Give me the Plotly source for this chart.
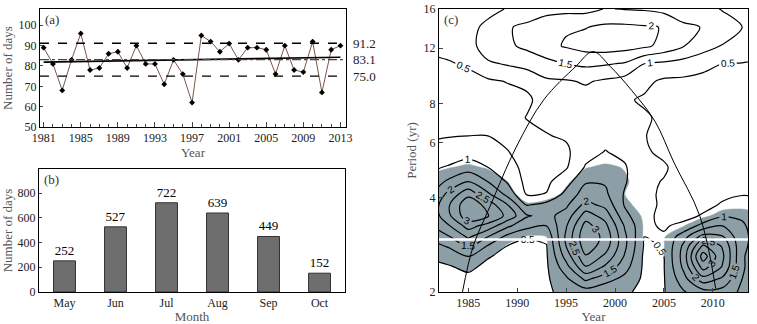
import numpy as np
import plotly.graph_objects as go

# ---------------- Panel (a): annual number of days ----------------
years_a = list(range(1981, 2014))
days_a = [89, 81, 68, 83, 96, 78, 79, 86, 87, 79, 90, 81, 81, 71, 83, 76, 62,
          95, 92, 87, 91, 83, 89, 89, 88, 76, 90, 78, 77, 92, 67, 88, 90]
upper_ref = 91.2
mean_ref = 83.1
lower_ref = 75.0
a_xticks = list(range(1981, 2014, 4))
a_xrange = [1980.6, 2013.6]
a_yrange = [50, 108]

# ---------------- Panel (b): monthly totals ----------------
months_b = ["May", "Jun", "Jul", "Aug", "Sep", "Oct"]
days_b = [252, 527, 722, 639, 449, 152]

# ---------------- Panel (c): wavelet power spectrum ----------------
wt_years = [1981, 1983, 1985, 1987, 1989, 1991, 1993, 1995, 1997, 1999,
            2001, 2003, 2005, 2007, 2009, 2011, 2013, 2015]
wt_periods = [2.0, 2.2, 2.4, 2.6, 2.8, 3.0, 3.25, 3.5, 3.8, 4.1, 4.5, 5.0,
              5.6, 6.3, 7.2, 8.2, 9.4, 10.7, 12.2, 14.0, 16.0]
# one list per year column, values from the shortest to the longest period
wt_power_by_year = [
    [0.20, 0.28, 0.38, 0.55, 0.80, 1.10, 1.40, 1.55, 1.55, 1.40, 1.15, 0.90, 0.62, 0.45, 0.35, 0.33, 0.38, 0.45, 0.55, 0.65, 0.70],
    [0.20, 0.30, 0.45, 0.70, 1.05, 1.45, 1.95, 2.40, 2.45, 2.15, 1.60, 1.05, 0.70, 0.48, 0.33, 0.30, 0.35, 0.47, 0.62, 0.75, 0.80],
    [0.20, 0.35, 0.62, 1.02, 1.55, 2.08, 2.70, 3.35, 3.40, 2.85, 2.00, 1.25, 0.78, 0.50, 0.34, 0.30, 0.38, 0.55, 0.78, 0.90, 0.92],
    [0.15, 0.22, 0.35, 0.55, 0.95, 1.50, 2.30, 3.05, 2.80, 2.10, 1.50, 1.00, 0.70, 0.50, 0.35, 0.30, 0.42, 0.92, 1.30, 1.08, 0.90],
    [0.12, 0.15, 0.22, 0.33, 0.48, 0.85, 1.60, 2.35, 2.00, 1.35, 0.95, 0.72, 0.52, 0.38, 0.30, 0.32, 0.52, 1.05, 1.42, 1.45, 1.02],
    [0.10, 0.12, 0.18, 0.25, 0.35, 0.55, 1.15, 1.55, 0.95, 0.45, 0.35, 0.32, 0.30, 0.35, 0.52, 0.42, 0.60, 1.20, 1.60, 1.62, 1.15],
    [0.42, 0.42, 0.43, 0.45, 0.48, 0.60, 1.00, 1.35, 1.15, 0.52, 0.40, 0.33, 0.35, 0.48, 0.60, 0.70, 0.92, 1.35, 1.85, 1.85, 1.30],
    [0.65, 0.90, 1.30, 1.70, 2.00, 2.10, 1.95, 1.70, 1.40, 1.15, 0.80, 0.45, 0.42, 0.55, 0.62, 0.70, 0.95, 1.50, 2.05, 1.95, 1.35],
    [0.75, 1.60, 2.45, 2.95, 3.30, 3.40, 3.20, 2.75, 2.15, 1.75, 1.45, 1.05, 0.80, 0.70, 0.68, 0.80, 1.05, 1.60, 2.20, 1.98, 1.35],
    [0.60, 1.20, 1.90, 2.40, 2.75, 2.85, 2.65, 2.30, 1.85, 1.60, 1.45, 1.25, 1.02, 0.85, 0.75, 0.72, 0.92, 1.55, 2.25, 2.10, 1.52],
    [0.55, 0.85, 1.20, 1.45, 1.60, 1.60, 1.45, 1.15, 0.95, 0.95, 1.05, 1.05, 0.88, 0.70, 0.60, 0.55, 0.80, 1.45, 2.20, 2.10, 1.48],
    [0.42, 0.40, 0.40, 0.40, 0.45, 0.50, 0.58, 0.60, 0.68, 0.62, 0.58, 0.60, 0.55, 0.52, 0.55, 0.45, 0.60, 1.00, 2.10, 2.05, 1.45],
    [0.47, 0.47, 0.48, 0.50, 0.52, 0.55, 0.45, 0.40, 0.40, 0.42, 0.48, 0.55, 0.42, 0.35, 0.42, 0.35, 0.42, 0.90, 1.85, 1.98, 1.35],
    [0.95, 1.30, 1.60, 1.70, 1.60, 1.30, 0.62, 0.35, 0.30, 0.30, 0.30, 0.32, 0.30, 0.30, 0.30, 0.32, 0.40, 0.80, 1.52, 1.60, 1.20],
    [1.30, 2.30, 3.20, 3.75, 3.10, 2.20, 1.20, 0.55, 0.35, 0.30, 0.30, 0.30, 0.30, 0.30, 0.30, 0.30, 0.40, 0.60, 1.25, 1.48, 1.10],
    [1.30, 1.90, 2.45, 2.60, 2.45, 2.05, 1.50, 0.95, 0.55, 0.40, 0.35, 0.32, 0.30, 0.30, 0.30, 0.30, 0.38, 0.50, 0.98, 1.15, 0.98],
    [0.90, 1.00, 1.05, 1.05, 1.10, 1.10, 1.05, 0.95, 0.65, 0.48, 0.40, 0.35, 0.32, 0.30, 0.30, 0.32, 0.38, 0.48, 0.85, 1.00, 0.82],
    [0.60, 0.65, 0.70, 0.70, 0.75, 0.80, 0.80, 0.75, 0.60, 0.45, 0.38, 0.34, 0.32, 0.30, 0.30, 0.30, 0.35, 0.42, 0.70, 0.85, 0.70],
]
# 95% significance level for each period row
signif_level = [0.5, 0.5, 0.5, 0.5, 0.55, 0.6, 0.65, 0.7, 0.85, 0.95, 0.95, 1.1,
                2.0, 3.0, 3.0, 3.0, 3.0, 3.0, 3.0, 3.0, 3.0]
coi_years = [1984.4, 1985.5, 1987.2, 1989.9, 1992.7, 1996.0, 1997.75,
             1999.5, 2001.7, 2004.1, 2006.0, 2008.7, 2010.3]
coi_periods = [2.0, 2.8, 3.74, 5.8, 8.2, 10.5, 11.7, 10.5, 8.8, 7.0, 5.2, 3.48, 2.05]
white_line_period = 2.94
c_xticks = [1985, 1990, 1995, 2000, 2005, 2010]
c_yticks = [2, 4, 6, 8, 12, 16]
c_xrange = [1982.0, 2013.6]

SERIF = "Liberation Serif"
TICKC = "#222222"
TITLEC = "#555555"

fig = go.Figure()

# ---- (a) traces ----
fig.add_trace(go.Scatter(x=years_a, y=days_a, mode="lines+markers",
                         line=dict(color="#7a5548", width=1),
                         marker=dict(symbol="diamond", size=4.5, color="black"),
                         xaxis="x", yaxis="y", hoverinfo="skip"))
coef = np.polyfit(years_a, days_a, 1)
trend_x = [years_a[0], years_a[-1]]
trend_y = list(np.polyval(coef, trend_x))
fig.add_trace(go.Scatter(x=trend_x, y=trend_y, mode="lines",
                         line=dict(color="black", width=1.6),
                         xaxis="x", yaxis="y", hoverinfo="skip"))

shapes = []
for val, dash, col in [(upper_ref, "dash", "black"), (lower_ref, "dash", "black"),
                       (mean_ref, "dashdot", "#444444")]:
    shapes.append(dict(type="line", xref="x domain", yref="y", x0=0, x1=1,
                       y0=val, y1=val, line=dict(color=col, width=1.4, dash=dash)))

# ---- (b) traces ----
fig.add_trace(go.Bar(x=months_b, y=days_b, width=0.43,
                     marker=dict(color="#6e6e6e", line=dict(color="#333333", width=1)),
                     text=[str(v) for v in days_b], textposition="outside",
                     textfont=dict(family=SERIF, size=13, color="black"),
                     cliponaxis=False, xaxis="x2", yaxis="y2", hoverinfo="skip"))

# ---- (c) traces ----
power = np.array(wt_power_by_year).T  # rows = periods, cols = years
ratio = power / np.array(signif_level)[:, None]
# constraint contours shade the region that fails the constraint, i.e. ratio >= 1
fig.add_trace(go.Contour(x=wt_years, y=wt_periods, z=ratio,
                         contours=dict(type="constraint", operation="<", value=1),
                         fillcolor="#8c9ea6", line=dict(color="#8c9ea6", width=0.5, smoothing=0.8),
                         showscale=False, xaxis="x3", yaxis="y3", hoverinfo="skip"))
fig.add_trace(go.Scatter(x=c_xrange, y=[white_line_period, white_line_period], mode="lines",
                         line=dict(color="white", width=2.5), xaxis="x3", yaxis="y3",
                         hoverinfo="skip"))
fig.add_trace(go.Contour(x=wt_years, y=wt_periods, z=power,
                         contours=dict(start=0.5, end=4.0, size=0.5, coloring="lines",
                                       showlabels=True,
                                       labelfont=dict(family="Liberation Sans", size=10, color="black")),
                         colorscale=[[0, "black"], [1, "black"]],
                         line=dict(width=1.2, smoothing=0.9),
                         showscale=False, xaxis="x3", yaxis="y3", hoverinfo="skip"))
fig.add_trace(go.Scatter(x=coi_years, y=coi_periods, mode="lines",
                         line=dict(color="black", width=1, shape="spline"),
                         xaxis="x3", yaxis="y3", hoverinfo="skip"))

tickfont = dict(family=SERIF, size=12, color=TICKC)
titlefont = dict(family=SERIF, size=13, color=TITLEC)
axline = dict(showline=True, linecolor="black", linewidth=1, mirror=True,
              showgrid=False, zeroline=False, automargin=False)

annotations = [
    dict(text="(a)", xref="x domain", yref="y domain", x=0.01, y=0.99,
         xanchor="left", yanchor="top", showarrow=False, font=dict(family=SERIF, size=13, color="#333")),
    dict(text="(b)", xref="x2 domain", yref="y2 domain", x=0.01, y=0.99,
         xanchor="left", yanchor="top", showarrow=False, font=dict(family=SERIF, size=13, color="#333")),
    dict(text="(c)", xref="x3 domain", yref="y3 domain", x=0.01, y=0.995,
         xanchor="left", yanchor="top", showarrow=False, font=dict(family=SERIF, size=13, color="#333")),
]
for val in [upper_ref, mean_ref, lower_ref]:
    annotations.append(dict(text=f"{val:.1f}", xref="x domain", yref="y", x=1.015, y=val,
                            xanchor="left", yanchor="middle", showarrow=False,
                            font=dict(family=SERIF, size=13, color="#222")))

fig.update_layout(
    width=757, height=324, margin=dict(l=0, r=0, t=0, b=0, pad=0),
    paper_bgcolor="white", plot_bgcolor="white", showlegend=False,
    font=dict(family=SERIF, size=12, color=TICKC),
    shapes=shapes, annotations=annotations,
    xaxis=dict(domain=[0.0528, 0.4571], anchor="y", range=a_xrange,
               tickmode="array", tickvals=a_xticks, ticks="inside", ticklen=5,
               minor=dict(dtick=1, tick0=1981, ticks="inside", ticklen=3, tickcolor="#444"),
               tickfont=tickfont, title=dict(text="Year", font=titlefont, standoff=0),
               **axline),
    yaxis=dict(domain=[0.608, 0.9722], anchor="x", range=a_yrange, tick0=50, dtick=10,
               ticks="inside", ticklen=3, tickfont=tickfont,
               title=dict(text="Number of days", font=titlefont, standoff=4), **axline),
    xaxis2=dict(domain=[0.0515, 0.4558], anchor="y2", range=[-0.5, 5.5], ticks="",
                tickfont=tickfont, title=dict(text="Month", font=titlefont, standoff=0),
                **axline),
    yaxis2=dict(domain=[0.0988, 0.4784], anchor="x2", range=[0, 995], tick0=0, dtick=200,
                ticks="inside", ticklen=3, tickfont=tickfont,
                title=dict(text="Number of days", font=titlefont, standoff=4), **axline),
    xaxis3=dict(domain=[0.5799, 0.9881], anchor="y3", range=c_xrange,
                tickmode="array", tickvals=c_xticks, ticks="inside", ticklen=4,
                tickfont=tickfont, title=dict(text="Year", font=titlefont, standoff=0),
                **axline),
    yaxis3=dict(domain=[0.0988, 0.9722], anchor="x3", type="log",
                range=[np.log10(2), np.log10(16)], tickmode="array", tickvals=c_yticks,
                ticks="inside", ticklen=4, tickfont=tickfont,
                title=dict(text="Period (yr)", font=titlefont, standoff=4), **axline),
)

fig.write_html("out.html",
               config={"displayModeBar": False, "staticPlot": True},
               post_script="document.body.style.margin='0px';"
                           "document.body.style.overflow='hidden';")
